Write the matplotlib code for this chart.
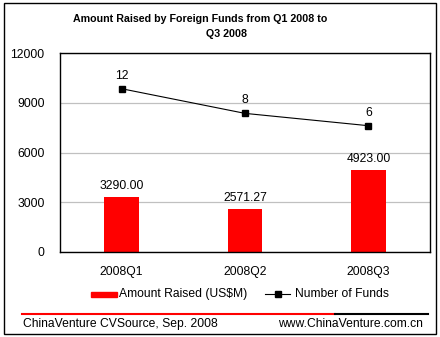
import matplotlib
matplotlib.use("Agg")
import matplotlib.pyplot as plt
from matplotlib.patches import Rectangle
from matplotlib.lines import Line2D

plt.rcParams["font.family"] = ["Liberation Sans", "DejaVu Sans"]

# Data
quarters = ["2008Q1", "2008Q2", "2008Q3"]
amount = [3290.00, 2571.27, 4923.00]
funds = [12, 8, 6]
yticks = [0, 3000, 6000, 9000, 12000]

W, H = 440, 337
FS = 8.7
fig = plt.figure(figsize=(W / 100, H / 100), dpi=100)

def fx(px):
    return px / W

def fy(py):
    return 1 - py / H

# outer frame
fig.patches.append(Rectangle((fx(4), fy(334)), fx(432), 331 / H, transform=fig.transFigure,
                             fill=False, edgecolor="black", linewidth=1.0))

ax = fig.add_axes([fx(60), fy(252), fx(370), 199 / H])
x = list(range(len(quarters)))
ax.bar(x, amount, width=0.28, color="#ff0000", zorder=2)
ax.set_xlim(-0.5, 2.5)
ax.set_ylim(0, 12000)
ax.set_yticks(yticks)
ax.set_yticklabels([str(v) for v in yticks])
ax.set_xticks(x)
ax.set_xticklabels(quarters)
ax.tick_params(axis="both", length=0, labelsize=FS)
ax.tick_params(axis="y", pad=11)
ax.tick_params(axis="x", pad=10)
ax.grid(axis="y", color="#c0c0c0", linewidth=0.9, zorder=0)
for s in ax.spines.values():
    s.set_color("black")
    s.set_linewidth(1.0)

for xi, v in zip(x, amount):
    ax.annotate(f"{v:.2f}", (xi, v), xytext=(0, 4), textcoords="offset points",
                ha="center", va="bottom", fontsize=FS)

ax2 = ax.twinx()
ax2.plot(x, funds, color="black", linewidth=0.8, marker="s", markersize=4.5, zorder=3)
ax2.set_ylim(-14.5, 17.8)
ax2.set_yticks([])
for s in ax2.spines.values():
    s.set_visible(False)
for xi, v in zip(x, funds):
    ax2.annotate(str(v), (xi, v), xytext=(0, 5), textcoords="offset points",
                 ha="center", va="bottom", fontsize=FS)

# title
fig.text(fx(200), fy(19), "Amount Raised by Foreign Funds from Q1 2008 to",
         ha="center", va="center", fontsize=7.7, fontweight="bold")
fig.text(fx(226), fy(34), "Q3 2008", ha="center", va="center", fontsize=7.7, fontweight="bold")

# legend
fig.patches.append(Rectangle((fx(91), fy(297)), fx(26), 5 / H, transform=fig.transFigure,
                             color="#ff0000"))
fig.text(fx(119), fy(294), "Amount Raised (US$M)", ha="left", va="center", fontsize=FS)
fig.lines.append(Line2D([fx(265), fx(290)], [fy(294), fy(294)], transform=fig.transFigure,
                        color="black", linewidth=0.8))
fig.lines.append(Line2D([fx(277.5)], [fy(294)], transform=fig.transFigure,
                        color="black", marker="s", markersize=4.5, linestyle="none"))
fig.text(fx(295), fy(294), "Number of Funds", ha="left", va="center", fontsize=FS)

# footer
fig.lines.append(Line2D([fx(22), fx(335)], [fy(314), fy(314)], transform=fig.transFigure,
                        color="#ff0000", linewidth=1.5))
fig.lines.append(Line2D([fx(335), fx(428)], [fy(314), fy(314)], transform=fig.transFigure,
                        color="black", linewidth=1.5))
fig.text(fx(23), fy(324), "ChinaVenture CVSource, Sep. 2008", ha="left", va="center", fontsize=FS)
fig.text(fx(423), fy(324), "www.ChinaVenture.com.cn", ha="right", va="center", fontsize=FS)

fig.savefig("out.png", dpi=100)
